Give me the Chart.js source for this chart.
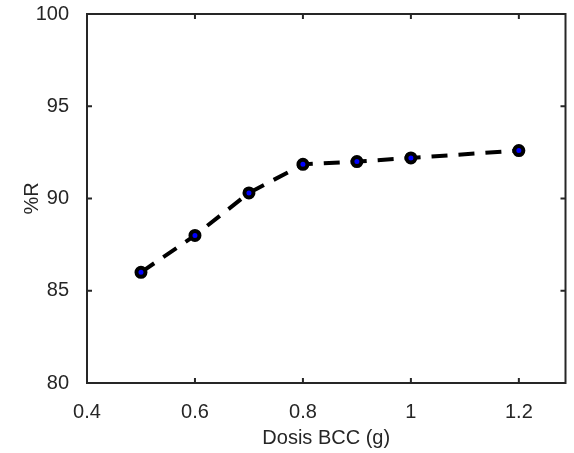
<!DOCTYPE html>
<html>
<head>
<meta charset="utf-8">
<script src="https://cdn.jsdelivr.net/npm/chart.js@4"></script>
<style>
  html, body { margin: 0; padding: 0; background: #fff; overflow: hidden; }
  #wrap { width: 574px; height: 453px; }
</style>
</head>
<body>
<div id="wrap"><canvas id="myChart"></canvas></div>
<script>
const dosis = [0.5, 0.6, 0.7, 0.8, 0.9, 1.0, 1.2];
const removal = [86.0, 88.0, 90.3, 91.85, 92.0, 92.2, 92.6];
const xTicks = [0.4, 0.6, 0.8, 1.0, 1.2];
const yTicks = [80, 85, 90, 95, 100];

const axisColor = '#262626';
const fontFamily = '"Liberation Sans", Arial, sans-serif';

// MATLAB style inward ticks on all four sides + box
const boxTicks = {
  id: 'boxTicks',
  afterDraw(chart) {
    const { ctx, chartArea: a, scales } = chart;
    ctx.save();
    ctx.strokeStyle = axisColor;
    ctx.lineWidth = 2;
    ctx.strokeRect(a.left, a.top, a.right - a.left, a.bottom - a.top);
    const len = 5;
    xTicks.forEach(v => {
      const x = scales.x.getPixelForValue(v);
      ctx.beginPath();
      ctx.moveTo(x, a.bottom); ctx.lineTo(x, a.bottom - len);
      ctx.moveTo(x, a.top); ctx.lineTo(x, a.top + len);
      ctx.stroke();
    });
    yTicks.forEach(v => {
      const y = scales.y.getPixelForValue(v);
      ctx.beginPath();
      ctx.moveTo(a.left, y); ctx.lineTo(a.left + len, y);
      ctx.moveTo(a.right, y); ctx.lineTo(a.right - len, y);
      ctx.stroke();
    });
    ctx.restore();
  }
};

const ctx = document.getElementById('myChart');

new Chart(ctx, {
  type: 'scatter',
  data: {
    datasets: [{
      data: dosis.map((d, i) => ({ x: d, y: removal[i] })),
      showLine: true,
      borderColor: '#000',
      borderWidth: 4,
      borderDash: [16, 11],
      pointRadius: 4.5,
      pointBorderWidth: 4,
      pointBackgroundColor: '#0000ff',
      pointBorderColor: '#000',
      tension: 0,
    }]
  },
  options: {
    responsive: true,
    maintainAspectRatio: false,
    animation: false,
    layout: { padding: { top: 14, right: 0, left: 0, bottom: 0 } },
    plugins: { legend: { display: false }, tooltip: { enabled: false } },
    scales: {
      x: {
        type: 'linear',
        min: 0.4,
        max: 1.2864,
        afterFit: s => { s.height = 70; s.paddingLeft = 0; s.paddingRight = 0; },
        afterBuildTicks: s => { s.ticks = xTicks.map(v => ({ value: v })); },
        ticks: {
          color: axisColor,
          font: { family: fontFamily, size: 20 },
          padding: 9,
          maxRotation: 0,
          callback: v => String(Math.round(v * 10) / 10),
        },
        grid: { display: false },
        border: { display: false },
        title: {
          display: true,
          text: 'Dosis BCC (g)',
          color: axisColor,
          font: { family: fontFamily, size: 20 },
          padding: { top: 3, bottom: 3 },
        }
      },
      y: {
        min: 80,
        max: 100,
        afterFit: s => { s.width = 87; s.paddingTop = 0; s.paddingBottom = 0; },
        afterBuildTicks: s => { s.ticks = yTicks.map(v => ({ value: v })); },
        ticks: {
          color: axisColor,
          font: { family: fontFamily, size: 20 },
          padding: 10,
        },
        grid: { display: false },
        border: { display: false },
        title: {
          display: true,
          text: '%R',
          color: axisColor,
          font: { family: fontFamily, size: 20 },
          padding: { top: 20, bottom: 20 },
        }
      }
    }
  },
  plugins: [boxTicks]
});
</script>
</body>
</html>
